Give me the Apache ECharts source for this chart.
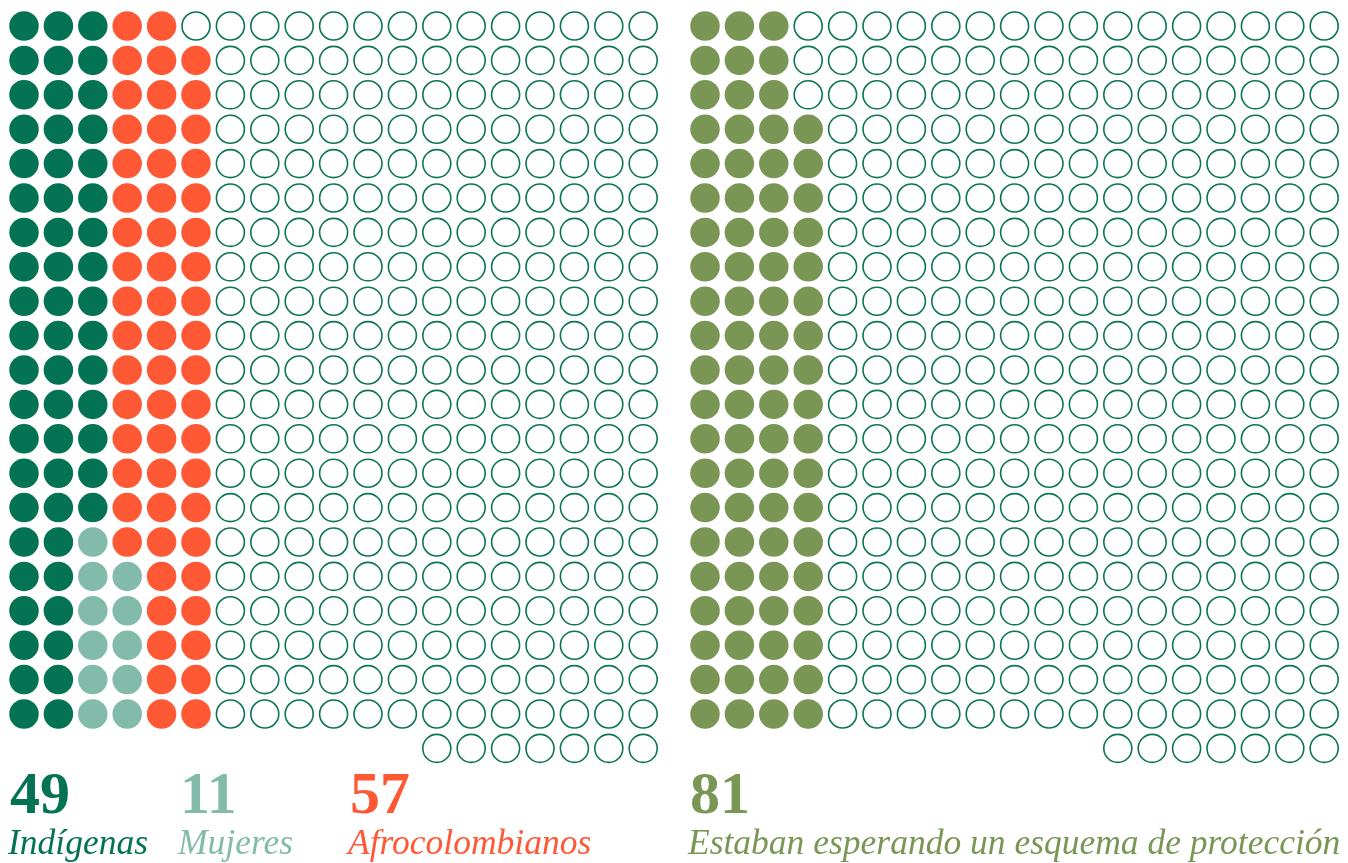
<!DOCTYPE html>
<html>
<head>
<meta charset="utf-8">
<title>Waffle</title>
<script src="https://cdn.jsdelivr.net/npm/echarts@6/dist/echarts.min.js"></script>
<style>
  html, body { margin: 0; padding: 0; background: #fff; }
  #chart { width: 1348px; height: 863px; }
</style>
</head>
<body>
<div id="chart"></div>
<script>
// ---- data ----
var gridCols = 19;
var gridRows = 21;
var extraDots = 7;          // partial row under each block
var totalDots = gridCols * gridRows + extraDots;   // 406

var leftLabels = ['Indígenas', 'Mujeres', 'Afrocolombianos'];
var leftTotals = [49, 11, 57];
var rightLabels = ['Estaban esperando un esquema de protección'];
var rightTotals = [81];

// dots as they appear, column by column from the bottom up: [category, count]
var leftRuns = [[0, 42], [1, 6], [0, 15], [1, 5], [2, 57]];
var rightRuns = [[0, 81]];

var leftColors = ['#037353', '#82bbaa', '#ff5835'];
var rightColors = ['#7a9654'];
var ringColor = '#0b7556';

// ---- helpers ----
function cellOf(i) {
  var full = gridCols * gridRows;
  if (i < full) {
    return [Math.floor(i / gridRows), gridRows - 1 - (i % gridRows)];
  }
  return [gridCols - extraDots + (i - full), gridRows];
}

function buildSeries(runs, nCats, colors, gridIdx) {
  var buckets = [];
  for (var c = 0; c < nCats; c++) buckets.push([]);
  var empty = [];
  var k = 0;
  runs.forEach(function (r) {
    for (var j = 0; j < r[1]; j++) { buckets[r[0]].push(cellOf(k)); k++; }
  });
  for (; k < totalDots; k++) empty.push(cellOf(k));

  var out = [{
    type: 'scatter', xAxisIndex: gridIdx, yAxisIndex: gridIdx,
    data: empty, symbolSize: 28, silent: true,
    itemStyle: { color: '#fff', borderColor: ringColor, borderWidth: 1.6, opacity: 1 }
  }];
  buckets.forEach(function (b, c) {
    out.push({
      type: 'scatter', xAxisIndex: gridIdx, yAxisIndex: gridIdx,
      data: b, symbolSize: 29.5, silent: true,
      itemStyle: { color: colors[c], opacity: 1 }
    });
  });
  return out;
}

var step = 34.4;
function gridAt(left) {
  return { left: left, top: 26 - step / 2, width: step * gridCols, height: step * (gridRows + 1) };
}
function xAx(i) { return { type: 'value', gridIndex: i, min: -0.5, max: gridCols - 0.5, show: false }; }
function yAx(i) { return { type: 'value', gridIndex: i, min: -0.5, max: gridRows + 0.5, inverse: true, show: false }; }

// ---- text ----
var serif = '"Liberation Serif", "DejaVu Serif", serif';
var textEls = [];
function addLabel(x, num, label, color) {
  textEls.push({
    type: 'text', left: x + 2, top: 767,
    style: { text: String(num), fill: color, font: 'bold 60px ' + serif }
  });
  textEls.push({
    type: 'text', left: x, top: 827,
    style: { text: label, fill: color, font: 'italic 35.5px ' + serif }
  });
}
var leftX = [8, 178, 348];
leftLabels.forEach(function (l, i) { addLabel(leftX[i], leftTotals[i], l, leftColors[i]); });
addLabel(688, rightTotals[0], rightLabels[0], rightColors[0]);

var chart = echarts.init(document.getElementById('chart'));
chart.setOption({
  animation: false,
  grid: [gridAt(24 - step / 2), gridAt(705 - step / 2)],
  xAxis: [xAx(0), xAx(1)],
  yAxis: [yAx(0), yAx(1)],
  series: buildSeries(leftRuns, 3, leftColors, 0).concat(buildSeries(rightRuns, 1, rightColors, 1)),
  graphic: textEls
});
</script>
</body>
</html>
